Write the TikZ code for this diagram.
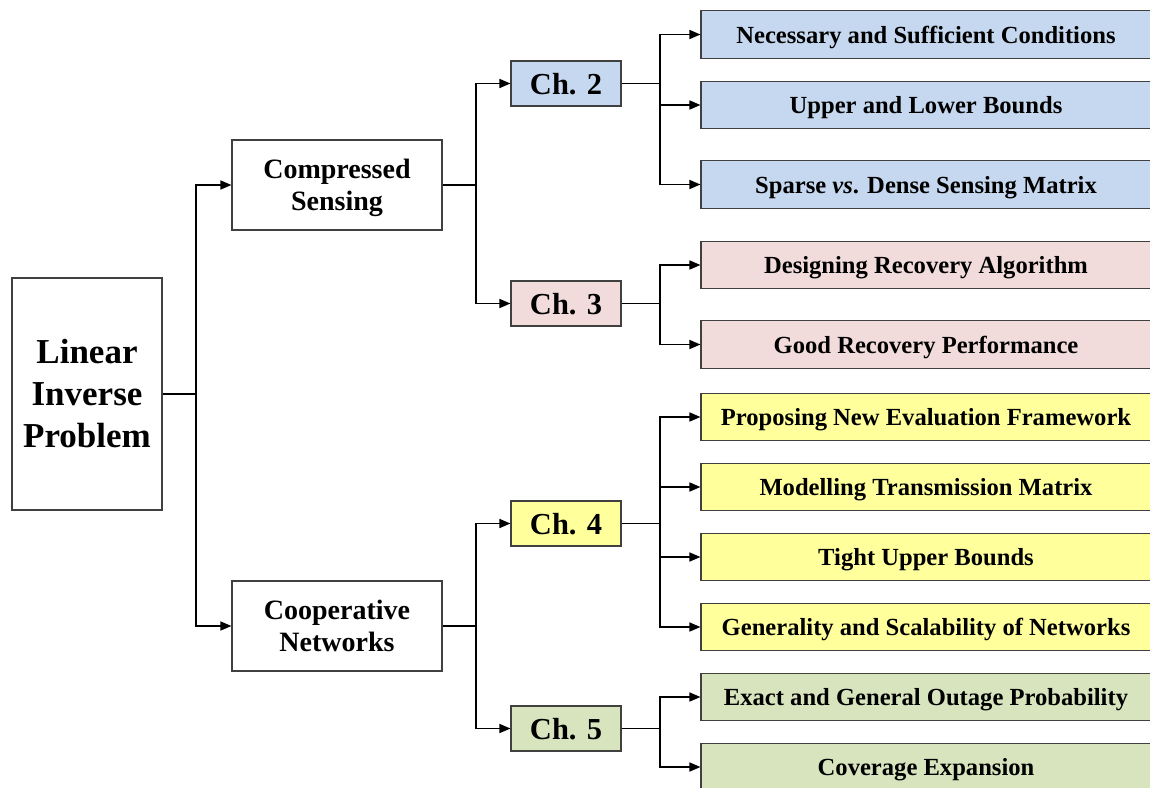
\documentclass[tikz,border=0pt]{standalone}
\usepackage{fontspec}
\setmainfont{Liberation Serif}
\usetikzlibrary{arrows.meta}

\definecolor{boxline}{HTML}{404040}
\definecolor{fillblue}{HTML}{C6D8EF}
\definecolor{fillpink}{HTML}{F2DCDB}
\definecolor{fillyellow}{HTML}{FFFF9C}
\definecolor{fillgreen}{HTML}{D7E4BD}

\tikzset{
  box/.style={draw=boxline, line width=1.1pt, inner sep=0pt, align=center, text=black},
  root/.style={box, fill=white, minimum width=150pt, minimum height=232pt,
    font=\fontsize{35}{42}\selectfont\bfseries},
  topic/.style={box, fill=white, minimum width=210pt, minimum height=90pt, text depth=0pt,
    font=\fontsize{28}{32}\selectfont\bfseries},
  chap/.style={box, minimum width=110pt, minimum height=45pt, text depth=0pt,
    font=\fontsize{30.5}{36}\selectfont\bfseries},
  leaf/.style={box, minimum width=450pt, minimum height=47.5pt, text depth=0pt,
    font=\fontsize{24.6}{29}\selectfont\bfseries},
  stem/.style={line width=1.5pt, draw=black},
  link/.style={stem, -{Triangle[length=11pt,width=9pt]}},
}

\begin{document}
\begin{tikzpicture}[x=1pt,y=-1pt]
  \useasboundingbox (0,0) rectangle (1150,787);
  \clip (0,0) rectangle (1150,787);

  % root and the two research areas
  \node[root]  (lip) at (87,394)  {Linear\\Inverse\\Problem};
  \node[topic] (cs)  at (337,185) {Compressed\\Sensing};
  \node[topic] (cn)  at (337,626) {Cooperative\\Networks};

  % chapters
  \node[chap, fill=fillblue]   (ch2) at (566,83.5)  {Ch. 2};
  \node[chap, fill=fillpink]   (ch3) at (566,303.5) {Ch. 3};
  \node[chap, fill=fillyellow] (ch4) at (566,523.5) {Ch. 4};
  \node[chap, fill=fillgreen]  (ch5) at (566,728.5) {Ch. 5};

  % contributions of each chapter
  \node[leaf, fill=fillblue]   (a1) at (926,34.5)  {Necessary and Sufficient Conditions};
  \node[leaf, fill=fillblue]   (a2) at (926,105)   {Upper and Lower Bounds};
  \node[leaf, fill=fillblue]   (a3) at (926,184.5) {Sparse \textit{vs}. Dense Sensing Matrix};
  \node[leaf, fill=fillpink]   (b1) at (926,265)   {Designing Recovery Algorithm};
  \node[leaf, fill=fillpink]   (b2) at (926,344.5) {Good Recovery Performance};
  \node[leaf, fill=fillyellow] (c1) at (926,417)   {Proposing New Evaluation Framework};
  \node[leaf, fill=fillyellow] (c2) at (926,487)   {Modelling Transmission Matrix};
  \node[leaf, fill=fillyellow] (c3) at (926,557)   {Tight Upper Bounds};
  \node[leaf, fill=fillyellow] (c4) at (926,627)   {Generality and Scalability of Networks};
  \node[leaf, fill=fillgreen]  (d1) at (926,697)   {Exact and General Outage Probability};
  \node[leaf, fill=fillgreen]  (d2) at (926,767)   {Coverage Expansion};

  % junction points of the tree
  \coordinate (j0) at (196,394);
  \coordinate (j1) at (476,185);
  \coordinate (j2) at (476,626);
  \coordinate (k2) at (660,83.5);
  \coordinate (k3) at (660,303.5);
  \coordinate (k4) at (660,523.5);
  \coordinate (k5) at (660,728.5);

  \draw[stem] (lip.east) -- (j0);
  \draw[link] (j0) |- (cs.west);
  \draw[link] (j0) |- (cn.west);

  \draw[stem] (cs.east) -- (j1);
  \draw[link] (j1) |- (ch2.west);
  \draw[link] (j1) |- (ch3.west);
  \draw[stem] (cn.east) -- (j2);
  \draw[link] (j2) |- (ch4.west);
  \draw[link] (j2) |- (ch5.west);

  \draw[stem] (ch2.east) -- (k2);
  \draw[link] (k2) |- (a1.west);
  \draw[link] (k2) |- (a2.west);
  \draw[link] (k2) |- (a3.west);

  \draw[stem] (ch3.east) -- (k3);
  \draw[link] (k3) |- (b1.west);
  \draw[link] (k3) |- (b2.west);

  \draw[stem] (ch4.east) -- (k4);
  \draw[link] (k4) |- (c1.west);
  \draw[link] (k4) |- (c2.west);
  \draw[link] (k4) |- (c3.west);
  \draw[link] (k4) |- (c4.west);

  \draw[stem] (ch5.east) -- (k5);
  \draw[link] (k5) |- (d1.west);
  \draw[link] (k5) |- (d2.west);
\end{tikzpicture}
\end{document}
